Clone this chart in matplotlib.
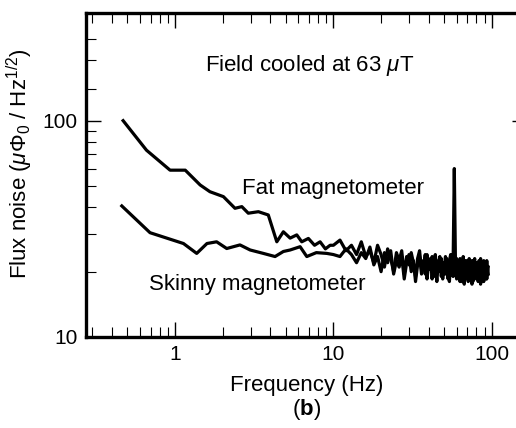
import numpy as np
import matplotlib
matplotlib.use('Agg')
import matplotlib.pyplot as plt
from matplotlib.ticker import FixedLocator, NullFormatter

plt.rcParams['font.family'] = ['Liberation Sans', 'DejaVu Sans']
plt.rcParams['mathtext.fontset'] = 'custom'
plt.rcParams['mathtext.rm'] = 'Liberation Sans'
plt.rcParams['mathtext.it'] = 'Liberation Sans:italic'
plt.rcParams['mathtext.bf'] = 'Liberation Sans:bold'

# low frequency part (Hz, uPhi0/Hz^1/2)
fat_f_low = [0.47, 0.66, 0.93, 1.16, 1.44, 1.66, 2.02, 2.39, 2.64, 2.90, 3.36, 3.88,
             4.39, 4.83, 5.33, 5.87, 6.31, 6.95, 7.6, 8.24, 8.9, 9.53]
fat_v_low = [100, 73, 59, 59, 50.4, 46.9, 44.5, 39.3, 40.0, 37.3, 37.9, 36.6,
             27.5, 30.6, 28.6, 29.6, 27.5, 28.5, 26.5, 27.5, 25.5, 26.5]

skinny_f_low = [0.461, 0.695, 1.13, 1.37, 1.59, 1.83, 2.12, 2.57, 2.98, 3.61, 4.28,
                4.83, 5.33, 6.16, 6.79, 7.8, 9.08]
skinny_v_low = [40.3, 30.3, 27.0, 24.3, 27.0, 27.5, 25.6, 26.6, 25.2, 24.3, 23.5,
                24.8, 25.2, 26.1, 23.5, 24.5, 24.3]

# noisy part, 1 Hz bins from 10 to 95 Hz (line pickup near 58 Hz)
f_high = list(range(10, 96))
fat_v_high = [26.5, 28, 25, 26.5, 24, 27.5, 23.5, 25, 22, 26.5,
              24, 21, 25.5, 23, 20, 24.5, 22.5, 25, 19.5, 23.5,
              21.5, 24.5, 22, 19, 23, 25, 20.5, 22.5, 19.5, 24,
              21, 23, 18.5, 22.5, 24, 20, 21.5, 23.5, 19, 22,
              20.5, 23.5, 21, 18.5, 22.5, 24, 19.5, 22, 60, 21.5,
              23, 19, 21.5, 18, 22.5, 20.5, 23.5, 19, 21, 22.5,
              18.5, 21.5, 23, 19.5, 20.5, 22.5, 18, 21.5, 23, 19,
              22, 20, 18.5, 22.5, 20.5, 23, 19, 21, 18, 22.5,
              20, 21.5, 18.5, 22.5, 19.5, 21]
skinny_v_high = [24, 23.5, 25.5, 24, 22, 24.5, 23, 26, 21.5, 23.5,
                 20, 24.5, 22, 25, 19.5, 22.5, 21, 23.5, 18.5, 22,
                 24, 20, 22.5, 18, 21.5, 23.5, 19.5, 21, 24, 18.5,
                 22, 20.5, 23.5, 19, 21.5, 18, 22.5, 20, 23, 18.5,
                 21.5, 19.5, 23, 20, 18, 22, 21, 19, 23, 20.5,
                 18.5, 22, 20, 23, 18, 21.5, 19.5, 17.5, 22.5, 20,
                 21.5, 18, 22, 19.5, 21, 17.5, 22.5, 20, 18.5, 21.5,
                 19, 22, 18, 21, 19.5, 17.5, 22, 20, 21, 18,
                 21.5, 19, 22, 18.5, 20.5, 19.5]

fat_f = fat_f_low + f_high
fat_v = fat_v_low + fat_v_high
skinny_f = skinny_f_low + f_high
skinny_v = skinny_v_low + skinny_v_high

fig = plt.figure(figsize=(5.16, 4.28), dpi=100)
ax = fig.add_axes([0.1667, 0.2133, 0.8547, 0.7556])

ax.plot(skinny_f, skinny_v, color='black', lw=2.3, solid_joinstyle='round')
ax.plot(fat_f, fat_v, color='black', lw=2.3, solid_joinstyle='round')

ax.set_xscale('log')
ax.set_yscale('log')
ax.set_xlim(0.274, 167)
ax.set_ylim(10, 314)

ax.set_xticks([1, 10, 100], ['1', '10', '100'])
ax.set_yticks([10, 100], ['10', '100'])
ax.xaxis.set_minor_locator(FixedLocator([0.3, 0.4, 0.5, 0.6, 0.7, 0.8, 0.9,
                                         2, 3, 4, 5, 6, 7, 8, 9,
                                         20, 30, 40, 50, 60, 70, 80, 90]))
ax.yaxis.set_minor_locator(FixedLocator([20, 30, 40, 50, 60, 70, 80, 90, 140, 190, 240]))
ax.xaxis.set_minor_formatter(NullFormatter())
ax.yaxis.set_minor_formatter(NullFormatter())

ax.tick_params(which='both', direction='in', top=True, right=True, labelsize=15, pad=6)
ax.tick_params(which='major', length=11, width=1.0)
ax.tick_params(which='minor', length=7.5, width=0.8)
for sp in ax.spines.values():
    sp.set_linewidth(2.4)

ax.set_xlabel('Frequency (Hz)', fontsize=16, labelpad=8)
ax.set_ylabel(r'Flux noise ($\mu\Phi_0$ / Hz$^{1/2}$)', fontsize=16)
ax.yaxis.set_label_coords(-0.116, 0.534)

ax.text(0.506, 0.840, r'Field cooled at 63 $\mu$T', transform=ax.transAxes,
        ha='center', va='center', fontsize=16)
ax.text(0.560, 0.459, 'Fat magnetometer', transform=ax.transAxes,
        ha='center', va='center', fontsize=16)
ax.text(0.389, 0.160, 'Skinny magnetometer', transform=ax.transAxes,
        ha='center', va='center', fontsize=16)

fig.text(306.7 / 516, 1 - 410 / 428, r'($\mathbf{b}$)', ha='center', va='center', fontsize=16)

fig.savefig('out.png', dpi=100)
